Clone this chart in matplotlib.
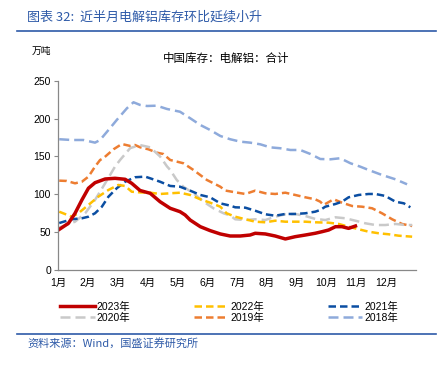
import matplotlib
matplotlib.use('Agg')
import matplotlib.pyplot as plt
from matplotlib.lines import Line2D

plt.rcParams['font.family'] = ['Liberation Sans', 'Noto Sans CJK SC', 'DejaVu Sans']

# x in months from Jan 1 (0 = 1月), values in 万吨
x2023 = [0.01, 0.35, 0.57, 0.80, 1.02, 1.24, 1.58, 1.91, 2.25, 2.47, 2.75, 3.09, 3.42, 3.76,
         4.09, 4.26, 4.43, 4.77, 5.10, 5.44, 5.77, 6.11, 6.44, 6.61, 6.95, 7.28, 7.62, 7.95,
         8.29, 8.62, 8.85, 9.07, 9.30, 9.52, 9.74, 9.97]
v2023 = [52.8, 61.7, 74.9, 92.5, 108, 115.3, 120.2, 121.1, 119.8, 114.5, 105, 101.3, 90.2, 81.5,
         77, 72.7, 66, 57.2, 52, 47.6, 44.9, 44.9, 46.2, 48.5, 47.6, 44.9, 41, 44,
         46.2, 48.5, 50.6, 52.8, 57.2, 57.2, 55, 58.1]

x2022 = [0.04, 0.46, 0.68, 1.02, 1.35, 1.69, 2.02, 2.25, 2.47, 2.75, 3.09, 3.42, 3.76, 4.09,
         4.43, 4.77, 5.10, 5.44, 5.65, 5.94, 6.28, 6.61, 6.95, 7.28, 7.62, 7.95, 8.29, 8.62,
         9.07, 9.41, 9.74, 10.08, 10.41, 10.75, 11.08, 11.42, 11.87]
v2022 = [77, 70.4, 74.9, 85.9, 96.8, 105.7, 112.3, 111, 103.4, 102.5, 102.1, 100.4, 101.3, 102.1,
         99.1, 93.4, 88.9, 83.6, 74.9, 70.4, 67, 63.8, 63, 65.1, 63.8, 63.8, 63.8, 63,
         62.5, 60.8, 57.2, 53.8, 50.6, 48.5, 47.2, 45.3, 44]

x2021 = [0.04, 0.46, 0.80, 1.02, 1.24, 1.47, 1.69, 1.97, 2.25, 2.58, 2.92, 3.09, 3.42, 3.76,
         4.09, 4.43, 4.77, 5.10, 5.44, 5.77, 5.94, 6.28, 6.61, 6.95, 7.28, 7.62, 7.95, 8.29,
         8.62, 8.79, 8.96, 9.30, 9.52, 9.74, 10.08, 10.41, 10.64, 10.97, 11.31, 11.59, 11.81]
v2021 = [62, 67, 68.3, 70.4, 74.9, 83.6, 96.8, 108, 116.6, 122.5, 123.3, 121.1, 116.6, 111,
         110, 104.8, 99.1, 96, 88, 85, 82.8, 82.3, 78.3, 73.6, 71.7, 74, 74, 74.9,
         77, 79.3, 83.6, 87.2, 90.2, 96, 99.1, 100.4, 100.4, 97.8, 90.2, 88.1, 82.8]

x2020 = [0.04, 0.57, 0.91, 1.24, 1.58, 1.91, 2.08, 2.42, 2.75, 3.09, 3.42, 3.65, 3.76, 3.98,
         4.20, 4.54, 4.88, 5.21, 5.55, 5.77, 5.94, 6.28, 6.61, 6.95, 7.28, 7.62, 7.95, 8.29,
         8.62, 8.96, 9.30, 9.63, 9.97, 10.30, 10.64, 10.97, 11.31, 11.64, 11.87]
v2020 = [56, 63.8, 74.9, 92.5, 114.5, 136.5, 145.3, 161, 165, 162, 150, 137, 132.1, 118.9,
         110, 101.3, 90.2, 81.5, 74.9, 72, 67, 66, 67, 66, 70.4, 73.6, 74, 71.3,
         67.5, 66, 69.6, 68.3, 65.1, 61.7, 59.4, 59.4, 60.8, 59.4, 59.4]

x2019 = [0.04, 0.29, 0.57, 0.80, 1.02, 1.24, 1.41, 1.52, 1.86, 2.14, 2.42, 2.58, 2.75, 3.03,
         3.31, 3.53, 3.76, 4.20, 4.54, 4.99, 5.44, 5.60, 5.94, 6.28, 6.61, 6.95, 7.28, 7.62,
         7.95, 8.29, 8.62, 8.79, 8.90, 9.24, 9.52, 9.86, 10.19, 10.53, 10.86, 11.20, 11.53, 11.87]
v2019 = [118, 117.6, 114.5, 116.6, 123.3, 136.5, 145.3, 147.6, 159.4, 166.4, 163.8, 165.1, 162.1, 159.4,
         155, 153.2, 145.3, 141, 132.1, 118.9, 110, 105, 102.6, 100.4, 104.8, 101.3, 100.4, 102.1,
         99.1, 96, 93.4, 90.2, 85.9, 93.4, 88.9, 84.5, 83.6, 81.5, 74.9, 67, 60.8, 58.1]

x2018 = [0.04, 0.46, 0.85, 1.24, 1.41, 1.74, 1.97, 2.31, 2.53, 2.75, 2.98, 3.31, 3.65, 4.09,
         4.43, 4.77, 5.10, 5.44, 5.77, 6.11, 6.44, 6.78, 7.11, 7.45, 7.79, 8.12, 8.46, 8.79,
         9.13, 9.46, 9.80, 10.13, 10.41, 10.86, 11.31, 11.70]
v2018 = [172.7, 171.7, 171.7, 168.2, 171.7, 187.2, 198.2, 213.6, 221.5, 218, 216.6, 217, 212.7, 209,
         200.4, 191.5, 184.9, 177, 172.7, 169.5, 168.2, 166, 162, 160.8, 158.5, 158.5, 153.2, 146.6,
         146.2, 147.6, 141, 136.5, 132.1, 125.5, 119.8, 113.2]

months = [f'{i}月' for i in range(1, 13)]

fig = plt.figure(figsize=(4.48, 3.66), dpi=100)
ax = fig.add_axes([0.1295, 0.2623, 0.7991, 0.5172])

l18, = ax.plot(x2018, v2018, color='#8EAADB', lw=1.8, dashes=(4, 2), label='2018年')
l19, = ax.plot(x2019, v2019, color='#ED7D31', lw=1.8, dashes=(3, 1.6), label='2019年')
l20, = ax.plot(x2020, v2020, color='#C9C9C9', lw=1.8, dashes=(4, 2), label='2020年')
l21, = ax.plot(x2021, v2021, color='#0B4EA2', lw=1.8, dashes=(3, 1.6), label='2021年')
l22, = ax.plot(x2022, v2022, color='#FFC000', lw=1.8, dashes=(3, 1.6), label='2022年')
l23, = ax.plot(x2023, v2023, color='#C00000', lw=2.5, label='2023年')

ax.set_xlim(0, 12)
ax.set_ylim(0, 250)
ax.set_yticks(range(0, 251, 50))
ax.set_xticks(range(12))
ax.set_xticklabels(months)
ax.tick_params(axis='y', length=3, color='#888888', labelsize=7.5, pad=2)
ax.tick_params(axis='x', length=0, labelsize=7.5, pad=6)
for s in ['top', 'right']:
    ax.spines[s].set_visible(False)
for s in ['left', 'bottom']:
    ax.spines[s].set_color('#888888')
    ax.spines[s].set_linewidth(0.9)

handles = [l23, l20, l22, l19, l21, l18]
fig.legend(handles, [h.get_label() for h in handles], ncol=3, loc='center',
           bbox_to_anchor=(0.511, 0.147), frameon=False, fontsize=7.5,
           handlelength=3.3, handletextpad=0.2, columnspacing=6.1, labelspacing=0.1)

blue = '#2E5AA8'
fig.text(27 / 448, 1 - 17 / 366, '图表 32:  近半月电解铝库存环比延续小升', fontsize=9.4,
         color=blue, va='center', ha='left', family=['Noto Sans CJK SC'])
fig.add_artist(Line2D([17 / 448, 436 / 448], [1 - 31 / 366] * 2, color=blue, lw=1.2,
                      transform=fig.transFigure))
fig.text(32 / 448, 1 - 51 / 366, '万吨', fontsize=7, va='center', ha='left',
         family=['Noto Sans CJK SC'])
fig.text(226 / 448, 1 - 58 / 366, '中国库存：电解铝：合计', fontsize=8.3, va='center',
         ha='center', family=['Noto Sans CJK SC'])
fig.add_artist(Line2D([17 / 448, 436 / 448], [1 - 334 / 366] * 2, color=blue, lw=1.2,
                      transform=fig.transFigure))
fig.text(27 / 448, 1 - 343 / 366, '资料来源：Wind，国盛证券研究所', fontsize=8, color=blue,
         va='center', ha='left', family=['Noto Sans CJK SC', 'DejaVu Sans'])

fig.savefig('out.png', dpi=100)
